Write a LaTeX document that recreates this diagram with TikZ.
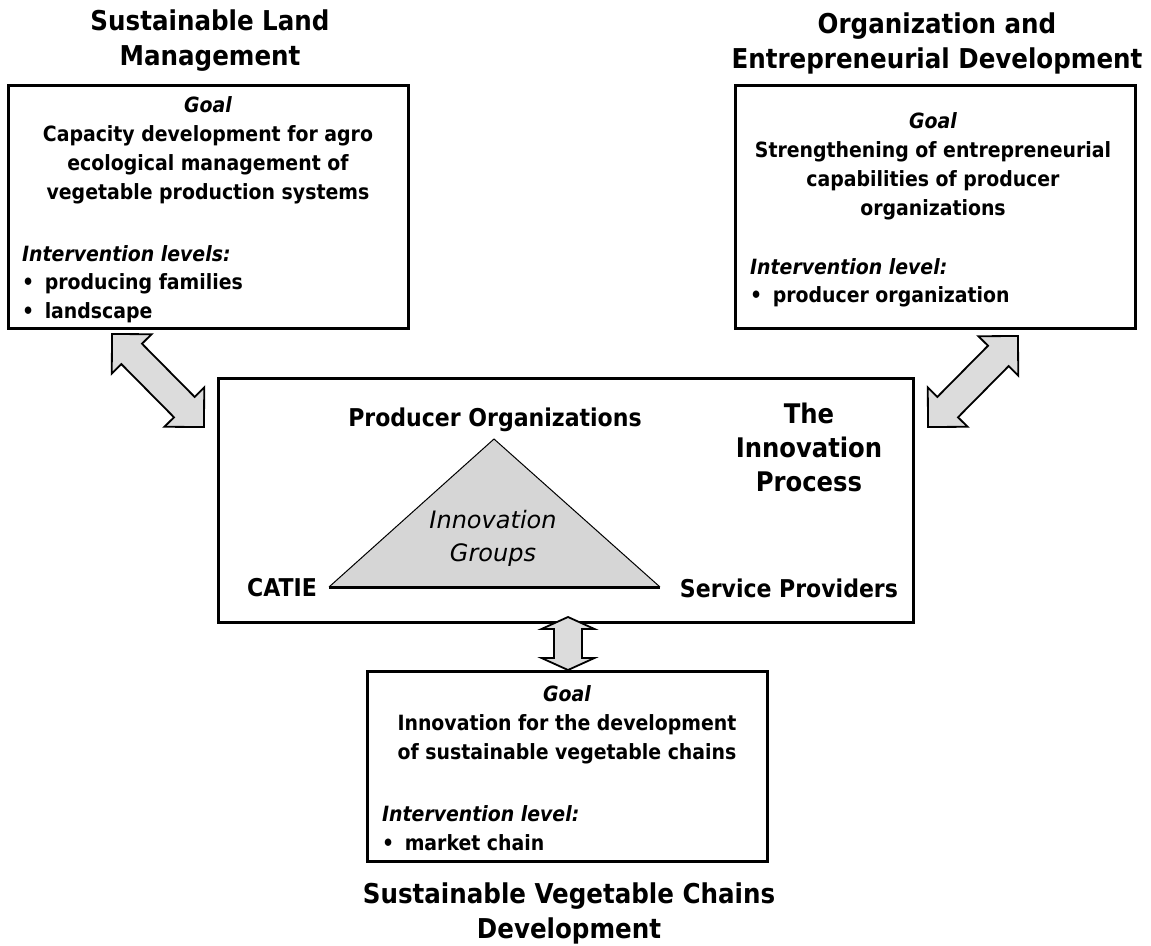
\documentclass[tikz,border=0pt]{standalone}
\usepackage{fontspec}
\setmainfont{DejaVu Sans Condensed}
\newfontfamily\obliquefont{DejaVu Sans}
\usetikzlibrary{calc}

\definecolor{arrowgray}{HTML}{DCDCDC}
\definecolor{trianglegray}{HTML}{D6D6D6}

\tikzset{
  panel/.style={draw=black, line width=3pt, fill=white, inner sep=0pt},
  heading/.style={font=\fontsize{27.3}{35}\selectfont\bfseries, align=center, inner sep=0pt},
  body/.style={font=\fontsize{21}{29}\selectfont\bfseries, align=center, inner sep=0pt},
  bodyleft/.style={font=\fontsize{21}{28.5}\selectfont\bfseries, align=left, inner sep=0pt, anchor=west},
  corner/.style={font=\fontsize{24.5}{30}\selectfont\bfseries, inner sep=0pt},
  groups/.style={font=\obliquefont\itshape\fontsize{24}{33}\selectfont, align=center, inner sep=0pt},
  blockarrow/.style={draw=black, line width=1.8pt, fill=arrowgray, line join=miter},
}

% double-headed block arrow: tips #1 and #2, shaft half width #3,
% head half width #4, head length #5
\newcommand\dblarrow[5]{%
  \filldraw[blockarrow] (#1)
    -- ($(#1)!#5!(#2)!#4!90:(#2)$)
    -- ($(#1)!#5!(#2)!#3!90:(#2)$)
    -- ($(#2)!#5!(#1)!#3!-90:(#1)$)
    -- ($(#2)!#5!(#1)!#4!-90:(#1)$)
    -- (#2)
    -- ($(#2)!#5!(#1)!#4!90:(#1)$)
    -- ($(#2)!#5!(#1)!#3!90:(#1)$)
    -- ($(#1)!#5!(#2)!#3!-90:(#2)$)
    -- ($(#1)!#5!(#2)!#4!-90:(#2)$)
    -- cycle;}

\newcommand\itembullet{\textbullet\hspace{0.5em}}

\begin{document}
\begin{tikzpicture}[x=1pt, y=-1pt]
  \useasboundingbox (0,0) rectangle (1151,945);
  \fill[white] (0,0) rectangle (1151,945);

  % panels
  \node[panel, minimum width=400, minimum height=243] (slm) at (208,206.5) {};
  \node[panel, minimum width=400, minimum height=243] (oed) at (935,206.5) {};
  \node[panel, minimum width=695, minimum height=244] (inno) at (565.5,500) {};
  \node[panel, minimum width=400, minimum height=190] (svc) at (567,766) {};

  % panel headings
  \node[heading] (slmtitle) at (210,41) {Sustainable Land\\Management};
  \node[heading] (oedtitle) at (937,43) {Organization and\\Entrepreneurial Development};
  \node[heading] (svctitle) at (569,913) {Sustainable Vegetable Chains\\Development};

  % sustainable land management
  \node[body] (slmgoal) at (208,150) {\textit{Goal}\\Capacity development for agro\\ecological management of\\vegetable production systems};
  \node[bodyleft] (slmlevel) at (22,284) {\textit{Intervention levels:}\\\itembullet producing families\\\itembullet landscape};

  % organization and entrepreneurial development
  \node[body] (oedgoal) at (933,166) {\textit{Goal}\\Strengthening of entrepreneurial\\capabilities of producer\\organizations};
  \node[bodyleft] (oedlevel) at (750,283) {\textit{Intervention level:}\\\itembullet producer organization};

  % sustainable vegetable chains development
  \node[body] (svcgoal) at (567,725) {\textit{Goal}\\Innovation for the development\\of sustainable vegetable chains};
  \node[bodyleft] (svclevel) at (382,828) {\textit{Intervention level:}\\\itembullet market chain};

  % innovation triangle
  \coordinate (apex) at (494,439);
  \coordinate (baseleft) at (329,587);
  \coordinate (baseright) at (660,587);
  \fill[trianglegray] (apex) -- (baseleft) -- (baseright) -- cycle;
  \draw[line width=1pt] (baseleft) -- (apex) -- (baseright);
  \draw[line width=3pt] (baseleft) -- (baseright);
  \node[groups] (groups) at (493,538) {Innovation\\Groups};

  \node[corner] (producers) at (495,420) {Producer Organizations};
  \node[corner] (catie) at (282,588) {CATIE};
  \node[corner] (providers) at (789,588) {Service Providers};
  \node[heading, font=\fontsize{27}{34}\selectfont\bfseries] (process) at (809,447) {The\\Innovation\\Process};

  % links between the panels
  \coordinate (slmtip) at (112,334);
  \coordinate (innotipl) at (204,427);
  \coordinate (oedtip) at (1018,336);
  \coordinate (innotipr) at (928,427);
  \coordinate (innotipb) at (568,617);
  \coordinate (svctip) at (568,670);
  \dblarrow{slmtip}{innotipl}{14.5pt}{28pt}{28pt}
  \dblarrow{oedtip}{innotipr}{14.5pt}{28pt}{28pt}
  \dblarrow{innotipb}{svctip}{14pt}{26.5pt}{12pt}
\end{tikzpicture}
\end{document}
